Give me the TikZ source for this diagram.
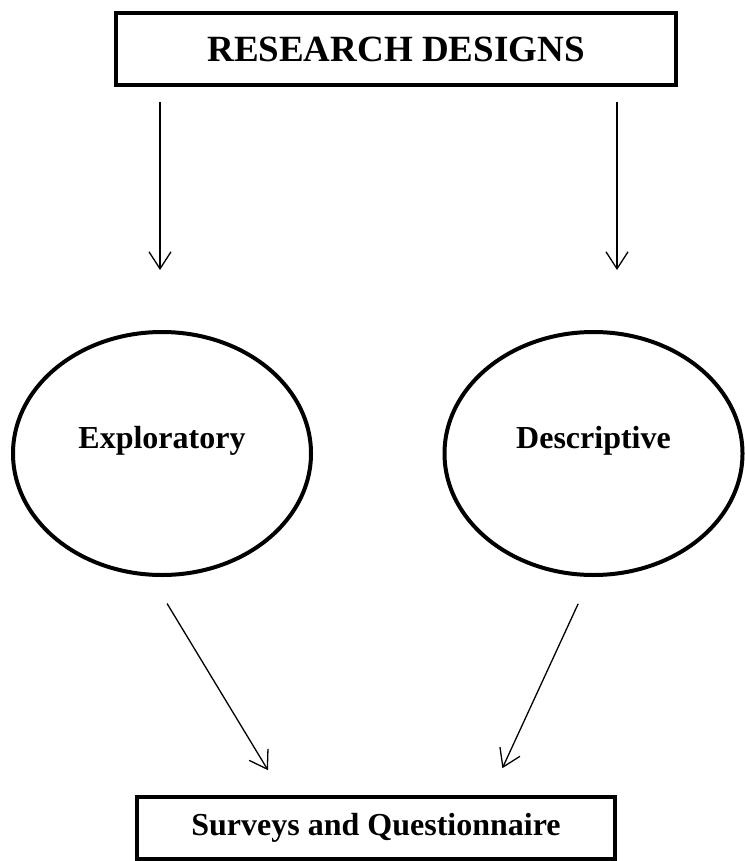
\documentclass[tikz,border=0pt]{standalone}
\usepackage{fontspec}
\setmainfont{Liberation Serif}
\usetikzlibrary{arrows.meta,positioning,calc,shapes.geometric}
\tikzset{
  headbox/.style={rectangle, draw, line width=4pt, inner sep=0pt,
                  font=\fontsize{37}{44}\selectfont\bfseries},
  outbox/.style={rectangle, draw, line width=4pt, inner sep=0pt,
                 font=\fontsize{32}{38}\selectfont\bfseries},
  oval/.style={ellipse, draw, line width=4pt, inner sep=0pt,
               minimum width=298pt, minimum height=243pt},
  ovaltext/.style={font=\fontsize{32}{38}\selectfont\bfseries, yshift=13pt},
  flow/.style={-{Straight Barb[length=17pt,width=22pt]}, line width=1.3pt},
}
\begin{document}
\begin{tikzpicture}[x=1pt, y=-1pt]
  \useasboundingbox (0,0) rectangle (744,861);
  \node[headbox, minimum width=560pt, minimum height=72pt] (designs) at (396,49) {RESEARCH DESIGNS};
  \node[oval, label={[ovaltext]center:Exploratory}] (expl) at (162,453.5) {};
  \node[oval, label={[ovaltext]center:Descriptive}] (desc) at (593.5,453.5) {};
  \node[outbox, minimum width=478pt, minimum height=62pt] (survey) at (376,828) {Surveys and Questionnaire};
  \draw[flow, shorten <=15pt, shorten >=60pt] ([xshift=-2pt]expl.north |- designs.south) -- ([xshift=-2pt]expl.north);
  \draw[flow, shorten <=15pt, shorten >=60pt] ([xshift=23.5pt]desc.north |- designs.south) -- ([xshift=23.5pt]desc.north);
  \draw[flow, shorten <=31pt, shorten >=29pt] ([xshift=-11pt]expl.south) -- ([xshift=-93pt]survey.north);
  \draw[flow, shorten <=29.5pt, shorten >=29.5pt] ([xshift=-3pt]desc.south) -- ([xshift=114pt]survey.north);
\end{tikzpicture}
\end{document}
